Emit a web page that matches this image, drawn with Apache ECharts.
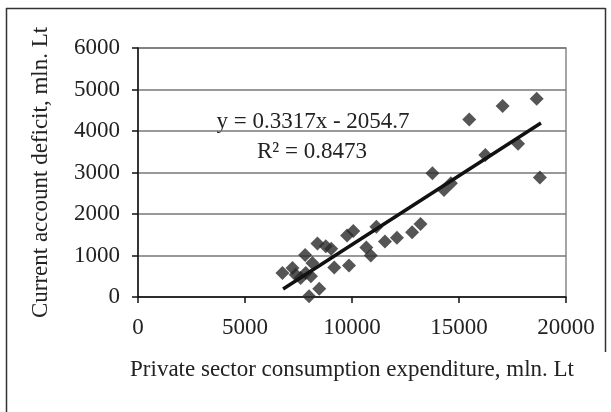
<!DOCTYPE html>
<html>
<head>
<meta charset="utf-8">
<script src="https://cdn.jsdelivr.net/npm/echarts@6/dist/echarts.min.js"></script>
<style>
html,body{margin:0;padding:0;background:#fff;}
#c{width:611px;height:412px;}
</style>
</head>
<body>
<div id="c"></div>
<script>
// Data
var consumption = [6750, 7220, 7370, 7600, 7840, 7810, 8150, 8080, 8385, 8775, 9030, 8470, 7995,
  9170, 9860, 9770, 10060, 10670, 10880, 11140, 11540, 12100, 12810, 13200,
  13760, 14300, 14620, 15480, 16230, 17040, 17760, 18630, 18780];
var deficit = [578, 699, 537, 458, 578, 1010, 819, 500, 1290, 1220, 1160, 200, 20,
  710, 760, 1480, 1590, 1190, 1000, 1690, 1340, 1430, 1560, 1760,
  2980, 2580, 2740, 4280, 3420, 4600, 3690, 4780, 2880];
var slope = 0.3317, intercept = -2054.7;
var trendX = [6780, 18830];
var xTicks = [0, 5000, 10000, 15000, 20000];
var yTicks = [0, 1000, 2000, 3000, 4000, 5000, 6000];
var eqText = 'y = 0.3317x - 2054.7';
var r2Text = 'R² = 0.8473';
var xTitle = 'Private sector consumption expenditure, mln. Lt';
var yTitle = 'Current account deficit, mln. Lt';

var pts = consumption.map(function (x, i) { return [x, deficit[i]]; });
var trend = trendX.map(function (x) { return [x, slope * x + intercept]; });

var font = 'Liberation Serif, Times New Roman, serif';
var chart = echarts.init(document.getElementById('c'), null, {renderer: 'canvas'});
chart.setOption({
  animation: false,
  backgroundColor: '#fff',
  grid: {left: 138, right: 45, top: 48, bottom: 115, show: true, borderColor: '#888', borderWidth: 1.5},
  xAxis: {
    type: 'value', min: xTicks[0], max: xTicks[xTicks.length - 1], interval: 5000,
    name: xTitle, nameLocation: 'middle', nameGap: 61,
    nameTextStyle: {fontFamily: font, fontSize: 23, color: '#222'},
    axisLine: {show: true, onZero: false, lineStyle: {color: '#111', width: 1.5}},
    axisTick: {show: true, inside: false, length: 6, lineStyle: {color: '#111', width: 1.5}},
    axisLabel: {fontFamily: font, fontSize: 23, color: '#222', margin: 19,
      formatter: function (v) { return String(v); }},
    splitLine: {show: false}
  },
  yAxis: {
    type: 'value', min: yTicks[0], max: yTicks[yTicks.length - 1], interval: 1000,
    name: yTitle, nameLocation: 'middle', nameGap: 86, nameRotate: 90,
    nameTextStyle: {fontFamily: font, fontSize: 23, color: '#222'},
    axisLine: {show: true, onZero: false, lineStyle: {color: '#111', width: 1.5}},
    axisTick: {show: true, inside: false, length: 6, lineStyle: {color: '#111', width: 1.5}},
    axisLabel: {fontFamily: font, fontSize: 23, color: '#222', margin: 18,
      formatter: function (v) { return String(v); }},
    splitLine: {show: true, lineStyle: {color: '#777', width: 1.5}}
  },
  series: [
    {
      type: 'scatter', data: pts, symbol: 'diamond', symbolSize: 14,
      itemStyle: {color: '#2b2b2b'}, z: 3
    },
    {
      type: 'line', data: trend, symbol: 'none', showSymbol: false,
      lineStyle: {color: '#111', width: 3.5}, z: 4
    }
  ],
  graphic: [
    {type: 'line', shape: {x1: 6.5, y1: 8, x2: 6.5, y2: 412}, style: {stroke: '#333', lineWidth: 1.5}},
    {type: 'line', shape: {x1: 6, y1: 8.5, x2: 605.5, y2: 8.5}, style: {stroke: '#333', lineWidth: 1.5}},
    {type: 'line', shape: {x1: 605.5, y1: 8, x2: 605.5, y2: 352}, style: {stroke: '#333', lineWidth: 1.5}},
    {type: 'text', style: {text: eqText, x: 313, y: 122, align: 'center', verticalAlign: 'middle', font: '23px ' + font, fill: '#222'}},
    {type: 'text', style: {text: r2Text, x: 312, y: 152, align: 'center', verticalAlign: 'middle', font: '23px ' + font, fill: '#222'}}
  ]
});
</script>
</body>
</html>
